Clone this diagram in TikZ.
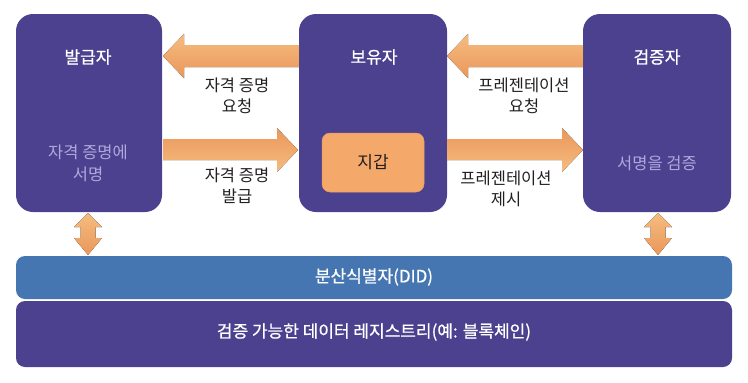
\documentclass[tikz,border=0pt]{standalone}
\usepackage{fontspec}
\setmainfont{Noto Sans CJK KR}
\newfontface\medf{Noto Sans CJK KR}[FakeBold=0.7]
\usetikzlibrary{positioning}
\definecolor{boxpurple}{HTML}{4C418F}
\definecolor{didblue}{HTML}{4576B2}
\definecolor{lav}{HTML}{ADA9DD}
\definecolor{orL}{HTML}{F6BC80}
\definecolor{orD}{HTML}{EA975A}
\definecolor{wallet}{HTML}{F4A86A}
\definecolor{txt}{HTML}{231F20}
\tikzset{
  rolebox/.style={fill=boxpurple, draw=none, rounded corners=17pt},
  title/.style={text=white, font=\medf\fontsize{17}{20}\selectfont},
  sub/.style={text=lav, font=\fontsize{16.5}{22}\selectfont, align=center},
  lbl/.style={text=txt, font=\fontsize{16.5}{21}\selectfont, align=center},
  fatup/.style={top color=orL, bottom color=orD, draw=none},
  fatdn/.style={top color=orD, bottom color=orL, draw=none},
  vert/.style={top color=orL, bottom color=orD, draw=none},
  bar/.style={draw=none, rounded corners=9pt},
}
\begin{document}
\begin{tikzpicture}[x=1pt,y=-1pt]
\useasboundingbox (0,0) rectangle (748,383);
% role boxes
\fill[rolebox] (16,14) rectangle (162,212);
\fill[rolebox] (299,14) rectangle (447,212);
\fill[rolebox] (583,14) rectangle (731,212);
\node[title] (issuer) at (88,57) {발급자};
\node[title] (holder) at (374,57) {보유자};
\node[title] (verifier) at (657,57) {검증자};
\node[sub] (isssub) at (88,163) {자격 증명에\\서명};
\node[sub] (versub) at (657,163) {서명을 검증};
% wallet
\node[fill=wallet, draw=orD!80!wallet, line width=0.5pt, rounded corners=8pt, minimum width=102pt, minimum height=59pt, text=txt, font=\fontsize{17}{20}\selectfont] (wal) at (373,162.5) {지갑};
% fat arrows
\fill[fatup] (163,56) -- (184,34) -- (184,45) -- (299,45) -- (299,67) -- (184,67) -- (184,78) -- cycle;
\fill[fatdn] (298,150) -- (277,128) -- (277,139) -- (163,139) -- (163,160) -- (277,160) -- (277,172) -- cycle;
\fill[fatup] (447,56) -- (468,34) -- (468,45) -- (583,45) -- (583,67) -- (468,67) -- (468,78) -- cycle;
\fill[fatdn] (583,150) -- (562,128) -- (562,139) -- (447,139) -- (447,160) -- (562,160) -- (562,172) -- cycle;
% labels
\node[lbl] (l1) at (237,96) {자격 증명\\요청};
\node[lbl] (l2) at (237,186) {자격 증명\\발급};
\node[lbl] (l3) at (524,96) {프레젠테이션\\요청};
\node[lbl] (l4) at (506,189) {프레젠테이션\\제시};
% vertical double arrows
\fill[vert] (88,213) -- (102,227) -- (95.5,227) -- (95.5,238) -- (102,238) -- (88,255) -- (74,238) -- (80.5,238) -- (80.5,227) -- (74,227) -- cycle;
\fill[vert] (658,213) -- (672,227) -- (665.5,227) -- (665.5,238) -- (672,238) -- (658,255) -- (644,238) -- (650.5,238) -- (650.5,227) -- (644,227) -- cycle;
% bars
\fill[bar, didblue] (16,256) rectangle (732,299);
\fill[bar, boxpurple] (16,301) rectangle (732,367);
\node[title] (did) at (374,277) {분산식별자(DID)};
\node[title] (reg) at (374,332) {검증 가능한 데이터 레지스트리(예: 블록체인)};
\end{tikzpicture}
\end{document}
